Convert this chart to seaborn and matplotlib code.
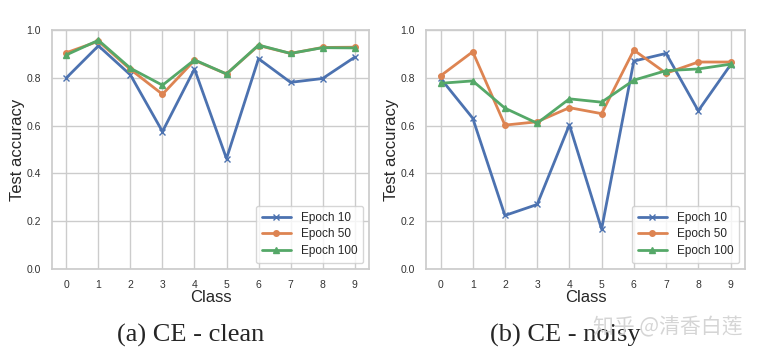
import numpy as np
import pandas as pd
import seaborn as sns
import matplotlib
matplotlib.use("Agg")
import matplotlib.pyplot as plt

sns.set_theme(style="whitegrid", palette="deep")
plt.rcParams['font.family'] = ['Liberation Sans', 'DejaVu Sans']

# data
classes = list(range(10))
epochs = ["Epoch 10", "Epoch 50", "Epoch 100"]

clean_ep10 = [0.80, 0.934, 0.812, 0.575, 0.837, 0.462, 0.880, 0.781, 0.797, 0.886]
clean_ep50 = [0.905, 0.953, 0.835, 0.731, 0.873, 0.816, 0.935, 0.902, 0.927, 0.928]
clean_ep100 = [0.896, 0.957, 0.840, 0.769, 0.875, 0.816, 0.937, 0.902, 0.926, 0.925]

noisy_ep10 = [0.798, 0.631, 0.224, 0.270, 0.603, 0.167, 0.870, 0.902, 0.662, 0.854]
noisy_ep50 = [0.808, 0.909, 0.602, 0.616, 0.675, 0.650, 0.916, 0.819, 0.866, 0.866]
noisy_ep100 = [0.777, 0.787, 0.673, 0.610, 0.712, 0.698, 0.790, 0.830, 0.837, 0.857]

captions = ["(a) CE - clean", "(b) CE - noisy"]
markers = ["x", "o", "^"]
colors = sns.color_palette("deep")[:3]


def panel(ax, series):
    for name, vals, m, c in zip(epochs, series, markers, colors):
        df = pd.DataFrame({"Class": classes, "acc": vals})
        sns.lineplot(data=df, x="Class", y="acc", ax=ax, marker=m, color=c,
                     label=name, linewidth=2, markersize=4,
                     markeredgewidth=1, markeredgecolor=c)
    ax.set_ylim(0, 1.0)
    ax.set_xlim(-0.45, 9.45)
    ax.set_xticks(classes)
    ax.set_yticks(np.arange(0, 1.01, 0.2))
    ax.tick_params(labelsize=7.5, pad=2, labelcolor="0.2")
    ax.set_xlabel("Class", fontsize=12, labelpad=0)
    ax.set_ylabel("Test accuracy", fontsize=12, labelpad=1)
    ax.legend(loc="lower right", fontsize=8.5, frameon=True, handlelength=2.5,
              borderpad=0.5, labelspacing=0.4)
    for s in ax.spines.values():
        s.set_color("0.8")


fig = plt.figure(figsize=(7.62, 3.6), dpi=100)
ax1 = fig.add_axes([52 / 762, 91 / 360, 317 / 762, 239 / 360])
ax2 = fig.add_axes([426 / 762, 91 / 360, 319 / 762, 239 / 360])

panel(ax1, [clean_ep10, clean_ep50, clean_ep100])
panel(ax2, [noisy_ep10, noisy_ep50, noisy_ep100])

fig.text(191 / 762, 1 - 335 / 360, captions[0], ha="center", va="center",
         fontsize=19, family="Liberation Serif")
fig.text(565 / 762, 1 - 335 / 360, captions[1], ha="center", va="center",
         fontsize=19, family="Liberation Serif")
# watermark, overlaps the right caption as in the source image
fig.text(743 / 762, 1 - 327 / 360, "知乎 @清香白莲", ha="right", va="center",
         fontsize=15, color="0.82", alpha=0.9,
         family=["Noto Sans CJK SC", "DejaVu Sans"])

fig.savefig("out.png", dpi=100)
